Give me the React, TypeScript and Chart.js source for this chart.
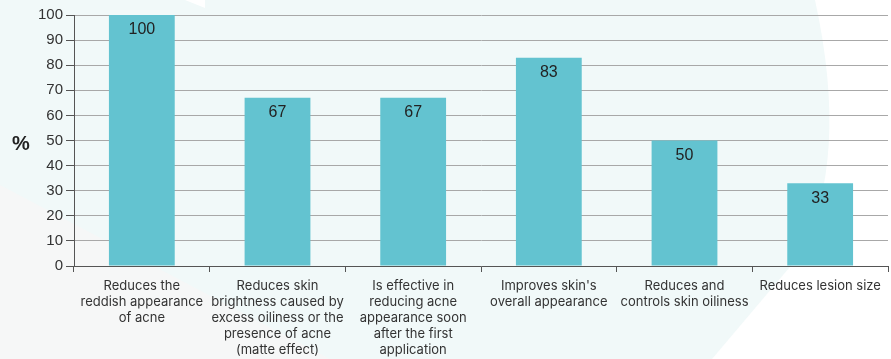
import React, { useEffect, useRef } from "react";
import { Chart, registerables } from "chart.js";

Chart.register(...registerables);

const categories: string[][] = [
  ["Reduces the", "reddish appearance", "of acne"],
  ["Reduces skin", "brightness caused by", "excess oiliness or the", "presence of acne", "(matte effect)"],
  ["Is effective in", "reducing acne", "appearance soon", "after the first", "application"],
  ["Improves skin's", "overall appearance"],
  ["Reduces and", "controls skin oiliness"],
  ["Reduces lesion size"],
];
const values: number[] = [100, 67, 67, 83, 50, 33];
const yTicks: number[] = [0, 10, 20, 30, 40, 50, 60, 70, 80, 90, 100];
const yUnit = "%";

const bgPlugin = {
  id: "bgShapes",
  beforeDraw(chart: any) {
    const ctx = chart.ctx as CanvasRenderingContext2D;
    const w = chart.width;
    const h = chart.height;
    ctx.save();
    ctx.fillStyle = "#ffffff";
    ctx.fillRect(0, 0, w, h);
    ctx.fillStyle = "#F1F9F9";
    ctx.beginPath();
    ctx.moveTo(0, 0);
    ctx.lineTo(815, 0);
    ctx.quadraticCurveTo(850, 160, 800, 255);
    ctx.lineTo(712, 359);
    ctx.lineTo(0, 359);
    ctx.closePath();
    ctx.fill();
    ctx.fillStyle = "#ffffff";
    ctx.beginPath();
    ctx.moveTo(185, 0);
    ctx.lineTo(205, 0);
    ctx.lineTo(205, 8);
    ctx.closePath();
    ctx.fill();
    ctx.fillStyle = "#F6F7F7";
    ctx.beginPath();
    ctx.moveTo(0, 185);
    ctx.lineTo(330, 359);
    ctx.lineTo(0, 359);
    ctx.closePath();
    ctx.fill();
    ctx.restore();
  },
};

const labelPlugin = {
  id: "barLabels",
  afterDatasetsDraw(chart: any) {
    const ctx = chart.ctx as CanvasRenderingContext2D;
    const meta = chart.getDatasetMeta(0);
    ctx.save();
    ctx.fillStyle = "#222222";
    ctx.font = "16px 'Liberation Sans', Arial, sans-serif";
    ctx.textAlign = "center";
    ctx.textBaseline = "middle";
    meta.data.forEach((el: any, i: number) => {
      ctx.fillText(String(values[i]), el.x, el.y + 15);
    });
    ctx.font = "bold 20px 'Liberation Sans', Arial, sans-serif";
    ctx.fillText(yUnit, 21, 144);
    ctx.restore();
  },
};

export default function App() {
  const ref = useRef<HTMLCanvasElement | null>(null);
  useEffect(() => {
    document.body.style.margin = "0";
    const chart = new Chart(ref.current!, {
      type: "bar",
      data: {
        labels: categories,
        datasets: [
          {
            data: values,
            backgroundColor: "#63C3D0",
            barPercentage: 0.485,
            categoryPercentage: 1,
          },
        ],
      },
      options: {
        animation: false,
        responsive: false,
        layout: { padding: { top: 15, right: 3, left: 8, bottom: 0 } },
        plugins: {
          legend: { display: false },
          tooltip: { enabled: false },
        },
        scales: {
          x: {
            offset: true,
            grid: {
              display: true,
              offset: true,
              drawOnChartArea: false,
              drawTicks: true,
              tickLength: 6,
              color: "#555555",
            },
            border: { color: "#555555", width: 1 },
            ticks: {
              color: "#333333",
              font: { family: "Inter, 'Open Sans', sans-serif", size: 13, lineHeight: 1.23 },
              maxRotation: 0,
              autoSkip: false,
              padding: 6,
            },
            afterFit(scale: any) {
              scale.height = 93;
            },
          },
          y: {
            min: 0,
            max: 100,
            afterBuildTicks(scale: any) {
              scale.ticks = yTicks.map((v) => ({ value: v }));
            },
            grid: {
              color: "#A8A8A8",
              tickLength: 8,
              tickColor: "#555555",
            },
            border: { color: "#555555", width: 1 },
            ticks: {
              color: "#333333",
              font: { family: "'Liberation Sans', Arial, sans-serif", size: 15 },
              padding: 3,
            },
            afterFit(scale: any) {
              scale.width = 66;
            },
          },
        },
      },
      plugins: [bgPlugin, labelPlugin],
    });
    return () => chart.destroy();
  }, []);
  return (
    <div style={{ position: "absolute", left: 0, top: 0, width: 891, height: 359 }}>
      <canvas ref={ref} width={891} height={359} style={{ width: 891, height: 359 }} />
    </div>
  );
}
